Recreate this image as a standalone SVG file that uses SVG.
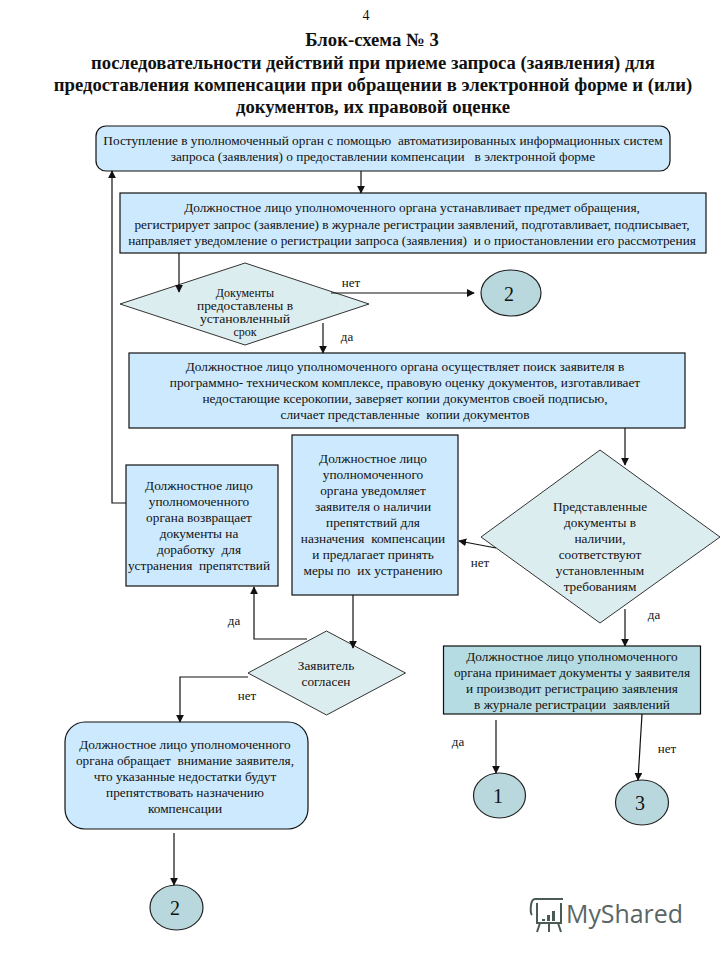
<svg xmlns="http://www.w3.org/2000/svg" width="720" height="960" viewBox="0 0 720 960">
<style>
text{font-family:"Liberation Serif","Times New Roman",serif;fill:#111;text-anchor:middle;white-space:pre}
.t{font-size:13.3px}
.s{font-size:12px}
.h{font-size:18.7px;font-weight:bold}
.l{font-size:13px}
.n{font-size:20px}
.b{fill:#cce9fd;stroke:#111;stroke-width:1.2}
.d{fill:#dcedf0;stroke:#333;stroke-width:1}
.c{fill:#b8d8dd;stroke:#222;stroke-width:1.2}
.g{fill:#b5dce2;stroke:#111;stroke-width:1.2}
.w{fill:none;stroke:#111;stroke-width:1.2}
</style>
<defs><marker id="a" viewBox="0 0 10 10" refX="9" refY="5" markerWidth="8" markerHeight="8" markerUnits="userSpaceOnUse" orient="auto"><path d="M0 0L10 5L0 10Z" fill="#111"/></marker></defs>
<rect width="720" height="960" fill="#fff"/>
<g id="header">
<text x="366" y="20" style="font-size:14px">4</text>
<text x="372" y="46" class="h">Блок-схема № 3</text>
<text x="373" y="69" class="h">последовательности действий при приеме запроса (заявления) для</text>
<text x="373" y="91" class="h">предоставления компенсации при обращении в электронной форме и (или)</text>
<text x="373" y="113" class="h">документов, их правовой оценке</text>
</g>
<g id="n1"><rect class="b" x="96" y="126" width="574" height="45" rx="10"/>
<text class="t" x="383" y="145">Поступление в уполномоченный орган с помощью  автоматизированных информационных систем</text>
<text class="t" x="383" y="161">запроса (заявления) о предоставлении компенсации   в электронной форме</text></g>
<g id="n2"><rect class="b" x="120" y="193" width="586" height="60"/>
<text class="t" x="412" y="212">Должностное лицо уполномоченного органа устанавливает предмет обращения,</text>
<text class="t" x="412" y="229">регистрирует запрос (заявление) в журнале регистрации заявлений, подготавливает, подписывает,</text>
<text class="t" x="412" y="245">направляет уведомление о регистрации запроса (заявления)  и о приостановлении его рассмотрения</text></g>
<g id="n3"><polygon class="d" points="120,304 245,263 369,304 245,345"/>
<text class="s" x="245" y="297">Документы</text><text class="s" x="245" y="310" textLength="96" lengthAdjust="spacingAndGlyphs">предоставлены в</text><text class="s" x="245" y="323" textLength="90" lengthAdjust="spacingAndGlyphs">установленный</text><text class="s" x="245" y="336">срок</text></g>
<g id="n4"><ellipse class="c" cx="511" cy="293" rx="30" ry="23"/><text class="n" x="509" y="301">2</text></g>
<g id="n5"><rect class="b" x="129" y="353" width="556" height="75"/>
<text class="t" x="405" y="371">Должностное лицо уполномоченного органа осуществляет поиск заявителя в</text>
<text class="t" x="405" y="387">программно- техническом комплексе, правовую оценку документов, изготавливает</text>
<text class="t" x="405" y="403">недостающие ксерокопии, заверяет копии документов своей подписью,</text>
<text class="t" x="405" y="419">сличает представленные  копии документов</text></g>
<g id="n6"><rect class="b" x="292" y="435" width="166" height="160"/>
<text class="t" x="373" y="463">Должностное лицо</text><text class="t" x="373" y="479">уполномоченного</text><text class="t" x="373" y="495">органа уведомляет</text><text class="t" x="373" y="511">заявителя о наличии</text><text class="t" x="373" y="527">препятствий для</text><text class="t" x="373" y="543">назначения  компенсации</text><text class="t" x="373" y="559">и предлагает принять</text><text class="t" x="373" y="575">меры по  их устранению</text></g>
<g id="n7"><rect class="b" x="126" y="465" width="152" height="121"/>
<text class="t" x="199" y="490">Должностное лицо</text><text class="t" x="199" y="506">уполномоченного</text><text class="t" x="199" y="522">органа возвращает</text><text class="t" x="199" y="538">документы на</text><text class="t" x="199" y="554">доработку  для</text><text class="t" x="199" y="570">устранения  препятствий</text></g>
<g id="n8"><polygon class="d" points="481,537 600,450 720,537 600,623"/>
<text class="t" x="600" y="511">Представленные</text><text class="t" x="600" y="527">документы в</text><text class="t" x="600" y="543">наличии,</text><text class="t" x="600" y="559">соответствуют</text><text class="t" x="600" y="575">установленным</text><text class="t" x="600" y="591">требованиям</text></g>
<g id="n9"><rect class="g" x="443.500" y="646" width="257" height="68"/>
<text class="t" x="572" y="661">Должностное лицо уполномоченного</text><text class="t" x="572" y="677">органа принимает документы у заявителя</text><text class="t" x="572" y="693">и производит регистрацию заявления</text><text class="t" x="572" y="709">в журнале регистрации  заявлений</text></g>
<g id="n10"><polygon class="d" points="248,673 326.500,631 405.500,673 326.500,715"/>
<text class="t" x="326" y="670">Заявитель</text><text class="t" x="326" y="686">согласен</text></g>
<g id="n11"><rect class="b" x="65" y="722" width="243" height="107" rx="20"/>
<text class="t" x="185" y="749">Должностное лицо уполномоченного</text><text class="t" x="185" y="765">органа обращает  внимание заявителя,</text><text class="t" x="185" y="781">что указанные недостатки будут</text><text class="t" x="185" y="797">препятствовать назначению</text><text class="t" x="185" y="813">компенсации</text></g>
<g id="n12"><ellipse class="c" cx="499.500" cy="795.500" rx="26" ry="22.500"/><text class="n" x="498" y="803">1</text></g>
<g id="n13"><ellipse class="c" cx="642" cy="802.500" rx="26.500" ry="22.500"/><text class="n" x="640" y="810">3</text></g>
<g id="n14"><ellipse class="c" cx="176.500" cy="907.500" rx="26.500" ry="22.500"/><text class="n" x="175" y="915">2</text></g>
<g id="connectors">
<path class="w" marker-end="url(#a)" d="M361 171V193"/>
<path class="w" marker-end="url(#a)" d="M126 503H112V171"/>
<path class="w" marker-end="url(#a)" d="M179 253V292"/>
<path class="w" marker-end="url(#a)" d="M331 293H474"/>
<path class="w" marker-end="url(#a)" d="M323 323V353"/>
<path class="w" marker-end="url(#a)" d="M625 428V465"/>
<path class="w" marker-end="url(#a)" d="M496 548L459 541"/>
<path class="w" marker-end="url(#a)" d="M625 609V646"/>
<path class="w" marker-end="url(#a)" d="M353 595V648"/>
<path class="w" marker-end="url(#a)" d="M307 639H254V587"/>
<path class="w" marker-end="url(#a)" d="M248 677H180V722"/>
<path class="w" marker-end="url(#a)" d="M496 720V773"/>
<path class="w" marker-end="url(#a)" d="M642 714L638 780"/>
<path class="w" marker-end="url(#a)" d="M174 833V885"/>
</g>
<g id="labels">
<text class="l" x="351" y="287">нет</text><text class="l" x="347" y="341">да</text><text class="l" x="480" y="567">нет</text><text class="l" x="654" y="619">да</text><text class="l" x="234" y="625">да</text><text class="l" x="247" y="700">нет</text><text class="l" x="458" y="746">да</text><text class="l" x="667" y="753">нет</text>
</g>
<g id="watermark">
<g fill="none" stroke="#4a5a55" stroke-width="2"><path d="M535 899H563M537 903V923H561V903M535 899C530 899 530 913 532 915M540 923L537 932M549 923V932M558 923L561 932"/></g>
<path d="M542 919h3v2h-3zM547 915h3v6h-3zM552 911h3v10h-3z" fill="#4a5a55"/>
<text x="566" y="923" style="font-family:'Open Sans',sans-serif;font-size:25px;fill:#5a6663;text-anchor:start" textLength="117" lengthAdjust="spacingAndGlyphs">MyShared</text>
</g>
</svg>
